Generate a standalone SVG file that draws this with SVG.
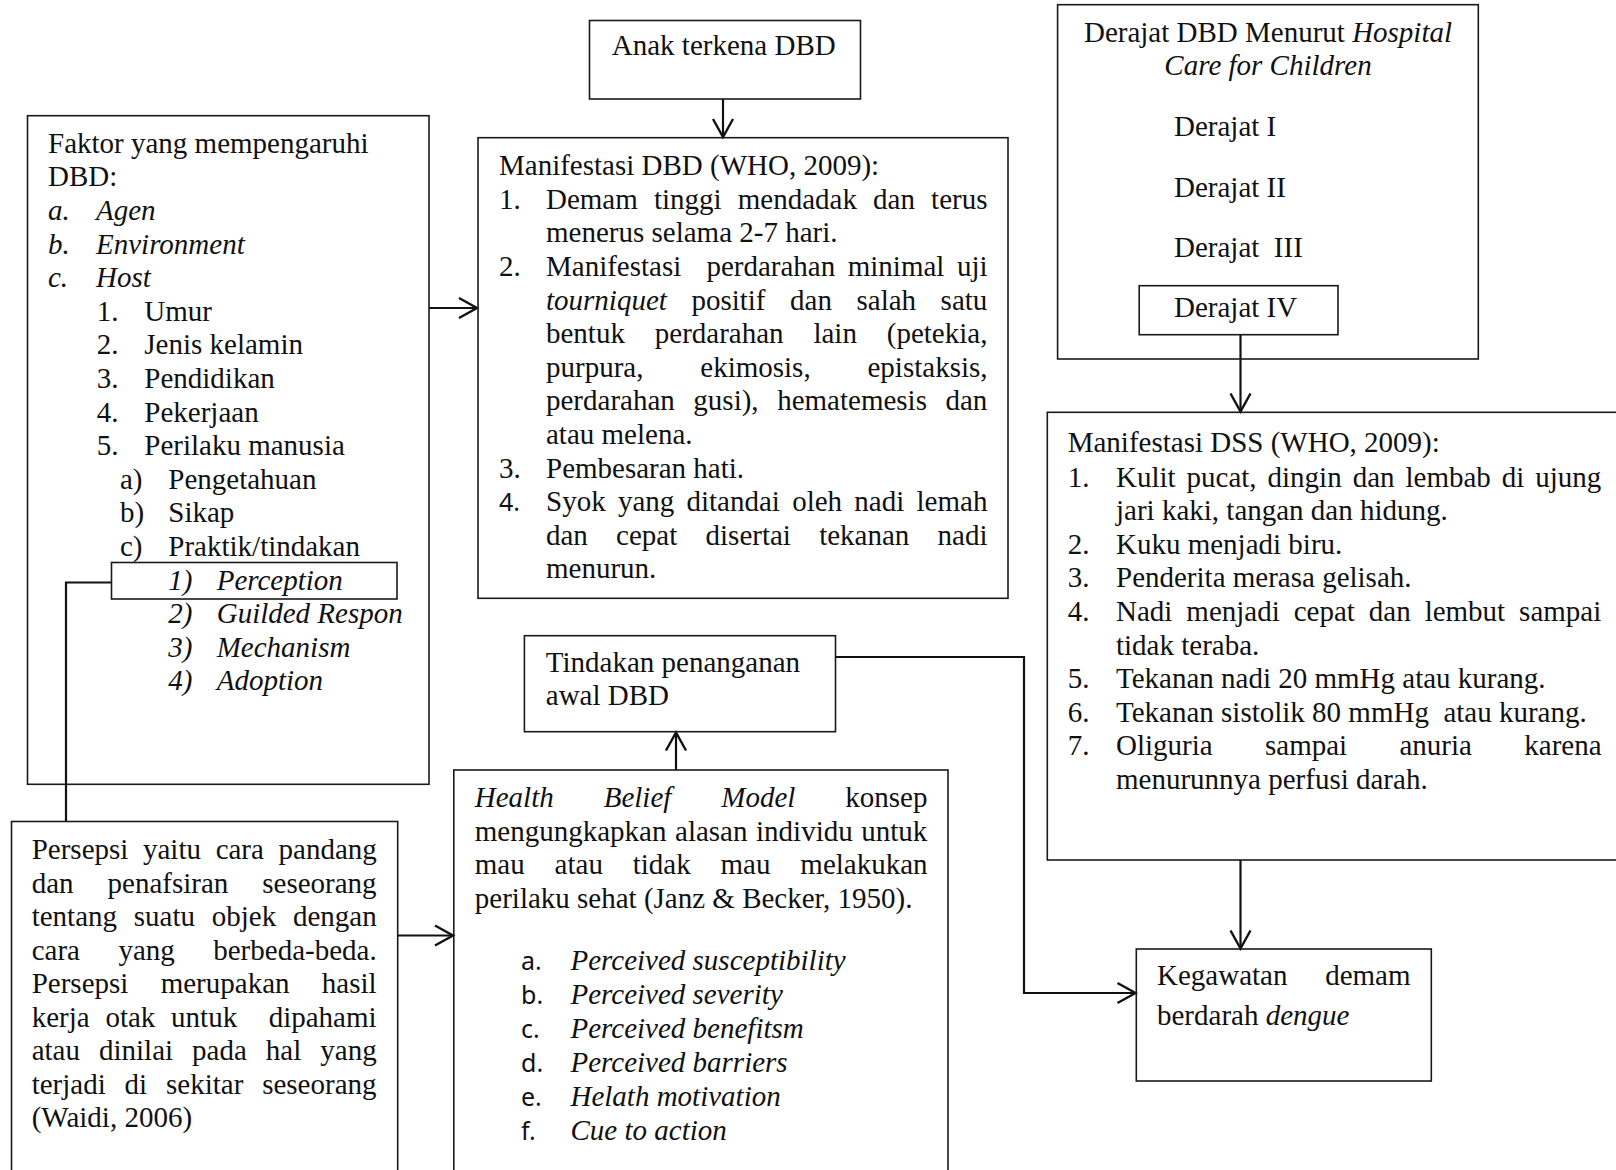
<svg xmlns="http://www.w3.org/2000/svg" width="1616" height="1170" viewBox="0 0 1616 1170">
<defs>
<style>
.t{font-family:"Liberation Serif","Times New Roman",serif;font-size:29px;fill:#111}
.i{font-style:italic}
.s{font-family:"Noto Sans","Liberation Sans",sans-serif;font-size:25px;fill:#111}
.box{fill:none;stroke:#1a1a1a;stroke-width:1.6}
.ln{fill:none;stroke:#111;stroke-width:2.2}
</style>
<marker id="arr" markerUnits="userSpaceOnUse" markerWidth="24" markerHeight="26" refX="20" refY="12" orient="auto">
<path d="M2,2 L20,12 L2,22" fill="none" stroke="#111" stroke-width="2.4"/>
</marker>
</defs>
<rect width="1616" height="1170" fill="#fff"/>

<g id="connectors">
<line class="ln" x1="723" y1="99" x2="723" y2="137" marker-end="url(#arr)"/>
<line class="ln" x1="429" y1="308" x2="477" y2="308" marker-end="url(#arr)"/>
<line class="ln" x1="1240.5" y1="335" x2="1240.5" y2="411.5" marker-end="url(#arr)"/>
<line class="ln" x1="1240.5" y1="860" x2="1240.5" y2="948.5" marker-end="url(#arr)"/>
<polyline class="ln" points="835.5,657 1024,657 1024,993 1135.5,993" marker-end="url(#arr)"/>
<line class="ln" x1="676" y1="770" x2="676" y2="732.5" marker-end="url(#arr)"/>
<line class="ln" x1="397.7" y1="935.5" x2="453" y2="935.5" marker-end="url(#arr)"/>
<polyline class="ln" points="111.5,582.5 66,582.5 66,821.5"/>
</g>

<g id="anak">
<rect class="box" x="589.5" y="20.5" width="271" height="78.5"/>
<text class="t" x="611.8" y="55">Anak terkena DBD</text>
</g>

<g id="faktor">
<rect class="box" x="27.5" y="115.7" width="401.5" height="668.6"/>
<text class="t" x="48" y="152.8">Faktor yang mempengaruhi</text>
<text class="t" x="48" y="186.4">DBD:</text>
<text class="t i" x="48" y="220">a.</text><text class="t i" x="96" y="220">Agen</text>
<text class="t i" x="48" y="253.6">b.</text><text class="t i" x="96" y="253.6">Environment</text>
<text class="t i" x="48" y="287.2">c.</text><text class="t i" x="96" y="287.2">Host</text>
<text class="t" x="96.7" y="320.8">1.</text><text class="t" x="144.3" y="320.8">Umur</text>
<text class="t" x="96.7" y="354.4">2.</text><text class="t" x="144.3" y="354.4">Jenis kelamin</text>
<text class="t" x="96.7" y="388">3.</text><text class="t" x="144.3" y="388">Pendidikan</text>
<text class="t" x="96.7" y="421.6">4.</text><text class="t" x="144.3" y="421.6">Pekerjaan</text>
<text class="t" x="96.7" y="455.2">5.</text><text class="t" x="144.3" y="455.2">Perilaku manusia</text>
<text class="t" x="120" y="488.8">a)</text><text class="t" x="168.3" y="488.8">Pengetahuan</text>
<text class="t" x="120" y="522.4">b)</text><text class="t" x="168.3" y="522.4">Sikap</text>
<text class="t" x="120" y="556">c)</text><text class="t" x="168.3" y="556">Praktik/tindakan</text>
<text class="t i" x="168.3" y="623.2">2)</text><text class="t i" x="216.7" y="623.2">Guilded Respon</text>
<text class="t i" x="168.3" y="656.8">3)</text><text class="t i" x="216.7" y="656.8">Mechanism</text>
<text class="t i" x="168.3" y="690.4">4)</text><text class="t i" x="216.7" y="690.4">Adoption</text>
</g>

<g id="perception">
<rect class="box" x="111.5" y="562.5" width="285.5" height="36.5"/>
<text class="t i" x="168.3" y="589.6">1)</text><text class="t i" x="216.7" y="589.6">Perception</text>
</g>

<g id="manifestasi-dbd">
<rect class="box" x="478" y="137.7" width="530" height="460.6"/>
<text class="t" x="499" y="175.2">Manifestasi DBD (WHO, 2009):</text>
<text class="t" x="499" y="208.8">1.</text><text class="t" x="546" y="208.8" word-spacing="8.9">Demam tinggi mendadak dan terus</text>
<text class="t" x="546" y="242.4">menerus selama 2-7 hari.</text>
<text class="t" x="499" y="276">2.</text><text class="t" x="546" y="276" word-spacing="5.3" xml:space="preserve">Manifestasi  perdarahan minimal uji</text>
<text class="t" x="546" y="309.6" word-spacing="17.3"><tspan class="i">tourniquet</tspan> positif dan salah satu</text>
<text class="t" x="546" y="343.2" word-spacing="22.6">bentuk perdarahan lain (petekia,</text>
<text class="t" x="546" y="376.8" word-spacing="49.6">purpura, ekimosis, epistaksis,</text>
<text class="t" x="546" y="410.4" word-spacing="11.3">perdarahan gusi), hematemesis dan</text>
<text class="t" x="546" y="444">atau melena.</text>
<text class="t" x="499" y="477.6">3.</text><text class="t" x="546" y="477.6">Pembesaran hati.</text>
<text class="s" x="499" y="511.2">4.</text><text class="t" x="546" y="511.2" word-spacing="5">Syok yang ditandai oleh nadi lemah</text>
<text class="t" x="546" y="544.8" word-spacing="21">dan cepat disertai tekanan nadi</text>
<text class="t" x="546" y="578.4">menurun.</text>
</g>

<g id="derajat">
<rect class="box" x="1057.6" y="4.7" width="420.7" height="354.3"/>
<text class="t" x="1268" y="41.7" text-anchor="middle">Derajat DBD Menurut <tspan class="i">Hospital</tspan></text>
<text class="t i" x="1268" y="75" text-anchor="middle">Care for Children</text>
<text class="t" x="1174" y="136">Derajat I</text>
<text class="t" x="1174" y="196.5">Derajat II</text>
<text class="t" x="1174" y="256.5" xml:space="preserve">Derajat  III</text>
</g>

<g id="derajat-iv">
<rect class="box" x="1139.2" y="285.7" width="198.8" height="49"/>
<text class="t" x="1174" y="316.5">Derajat IV</text>
</g>

<g id="manifestasi-dss">
<rect class="box" x="1047.3" y="412.3" width="620" height="447.7"/>
<text class="t" x="1067.7" y="452">Manifestasi DSS (WHO, 2009):</text>
<text class="t" x="1067.7" y="486.5">1.</text><text class="t" x="1116" y="486.5" word-spacing="3.7">Kulit pucat, dingin dan lembab di ujung</text>
<text class="t" x="1116" y="520.1">jari kaki, tangan dan hidung.</text>
<text class="t" x="1067.7" y="553.7">2.</text><text class="t" x="1116" y="553.7">Kuku menjadi biru.</text>
<text class="t" x="1067.7" y="587.3">3.</text><text class="t" x="1116" y="587.3">Penderita merasa gelisah.</text>
<text class="t" x="1067.7" y="620.9">4.</text><text class="t" x="1116" y="620.9" word-spacing="6.7">Nadi menjadi cepat dan lembut sampai</text>
<text class="t" x="1116" y="654.5">tidak teraba.</text>
<text class="t" x="1067.7" y="688.1">5.</text><text class="t" x="1116" y="688.1">Tekanan nadi 20 mmHg atau kurang.</text>
<text class="t" x="1067.7" y="721.7">6.</text><text class="t" x="1116" y="721.7" xml:space="preserve">Tekanan sistolik 80 mmHg  atau kurang.</text>
<text class="t" x="1067.7" y="755.3">7.</text><text class="t" x="1116" y="755.3" word-spacing="45.1">Oliguria sampai anuria karena</text>
<text class="t" x="1116" y="788.9">menurunnya perfusi darah.</text>
</g>

<g id="tindakan">
<rect class="box" x="524.4" y="635.7" width="311.1" height="96"/>
<text class="t" x="545.8" y="671.7">Tindakan penanganan</text>
<text class="t" x="545.8" y="705">awal DBD</text>
</g>

<g id="hbm">
<rect class="box" x="453.8" y="770" width="494.2" height="450"/>
<text class="t" x="474.8" y="806.5" word-spacing="42.7"><tspan class="i">Health Belief Model</tspan> konsep</text>
<text class="t" x="474.8" y="840.5" word-spacing="1.3">mengungkapkan alasan individu untuk</text>
<text class="t" x="474.8" y="874" word-spacing="22.6">mau atau tidak mau melakukan</text>
<text class="t" x="474.8" y="907.5">perilaku sehat (Janz &amp; Becker, 1950).</text>
<text class="s" x="521" y="970">a.</text><text class="t i" x="570.5" y="970">Perceived susceptibility</text>
<text class="s" x="521" y="1004">b.</text><text class="t i" x="570.5" y="1004">Perceived severity</text>
<text class="s" x="521" y="1038">c.</text><text class="t i" x="570.5" y="1038">Perceived benefitsm</text>
<text class="s" x="521" y="1072">d.</text><text class="t i" x="570.5" y="1072">Perceived barriers</text>
<text class="s" x="521" y="1106">e.</text><text class="t i" x="570.5" y="1106">Helath motivation</text>
<text class="s" x="521" y="1140">f.</text><text class="t i" x="570.5" y="1140">Cue to action</text>
</g>

<g id="persepsi">
<rect class="box" x="11.5" y="821.5" width="386.2" height="400"/>
<text class="t" x="31.7" y="859.3" word-spacing="7.4">Persepsi yaitu cara pandang</text>
<text class="t" x="31.7" y="892.8" word-spacing="26.7">dan penafsiran seseorang</text>
<text class="t" x="31.7" y="926.3" word-spacing="9.5">tentang suatu objek dengan</text>
<text class="t" x="31.7" y="959.8" word-spacing="31.2">cara yang berbeda-beda.</text>
<text class="t" x="31.7" y="993.3" word-spacing="25.1">Persepsi merupakan hasil</text>
<text class="t" x="31.7" y="1026.8" word-spacing="8.5" xml:space="preserve">kerja otak untuk  dipahami</text>
<text class="t" x="31.7" y="1060.3" word-spacing="11.75">atau dinilai pada hal yang</text>
<text class="t" x="31.7" y="1093.8" word-spacing="11.6">terjadi di sekitar seseorang</text>
<text class="t" x="31.7" y="1127.3">(Waidi, 2006)</text>
</g>

<g id="kegawatan">
<rect class="box" x="1136.3" y="949" width="295" height="132"/>
<text class="t" x="1157" y="985" word-spacing="30.5">Kegawatan demam</text>
<text class="t" x="1157" y="1025">berdarah <tspan class="i">dengue</tspan></text>
</g>
</svg>
